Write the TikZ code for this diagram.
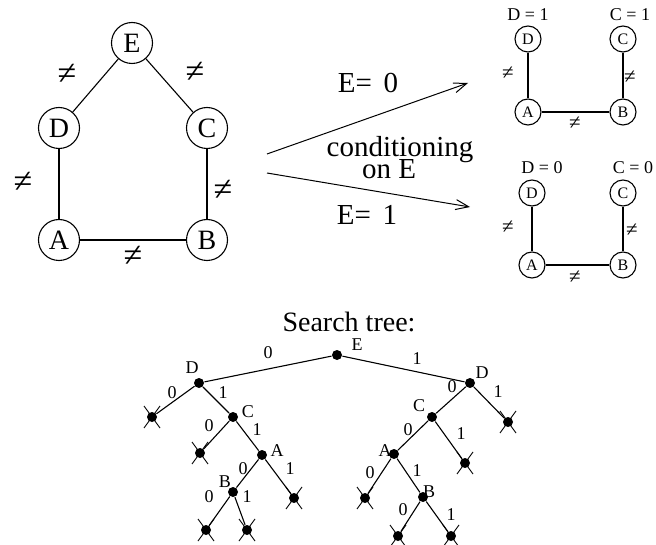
\documentclass[tikz,border=0pt]{standalone}
\usepackage{fontspec}
\setmainfont{Liberation Serif}
\usetikzlibrary{arrows.meta}

\begin{document}
\begin{tikzpicture}[x=1pt, y=-1pt, line width=1.1pt,
  vbig/.style={circle, draw, inner sep=0pt, minimum size=41pt, font=\fontsize{28}{30}\selectfont},
  vsmall/.style={circle, draw, inner sep=0pt, minimum size=26pt, font=\fontsize{16}{17}\selectfont},
  neqbig/.style={inner sep=0pt, font=\fontsize{34}{36}\selectfont},
  neqsmall/.style={inner sep=0pt, font=\fontsize{21}{22}\selectfont},
  big/.style={inner sep=0pt, font=\fontsize{29}{31}\selectfont},
  lbl/.style={inner sep=0pt, font=\fontsize{18}{19}\selectfont},
  dot/.style={circle, fill, inner sep=0pt, minimum size=10pt},
  cond/.style={-{Straight Barb[length=13pt, width=10pt]}, line width=1pt}]
\useasboundingbox (0,0) rectangle (656,545);

% the constraint graph
\node[vbig] (E) at (132,43) {E};
\node[vbig] (D) at (59,128) {D};
\node[vbig] (C) at (207,128) {C};
\node[vbig] (A) at (59,240) {A};
\node[vbig] (B) at (207,240) {B};
\foreach \u/\v in {E/D, E/C, D/A, C/B, A/B} \draw (\u) -- (\v);
\foreach \p in {(67,74),(195,72),(23,182),(223,190),(133,256)} \node[neqbig] at \p {≠};

% conditioning arrows
\coordinate (up0) at (267,154); \coordinate (up1) at (468,83);
\coordinate (dn0) at (267,173); \coordinate (dn1) at (470,207);
\draw[cond] (up0) -- (up1);
\draw[cond] (dn0) -- (dn1);
\node[big] (e0) at (368,83) {E=\hspace{0.4em}0};
\node[big] (e1) at (367,215) {E=\hspace{0.4em}1};
\node[big] (cnd) at (400,150) {conditioning};
\node[big] (onE) at (389,169) {on E};

% E = 0
\node[vsmall] (D0) at (528,39) {D};
\node[vsmall] (C0) at (623,39) {C};
\node[vsmall] (A0) at (528,112) {A};
\node[vsmall] (B0) at (623,112) {B};
\node[lbl] at (528,15) {D = 1};
\node[lbl] at (630,15) {C = 1};
% E = 1
\node[vsmall] (D1) at (532,193) {D};
\node[vsmall] (C1) at (623,193) {C};
\node[vsmall] (A1) at (532,265) {A};
\node[vsmall] (B1) at (623,265) {B};
\node[lbl] at (542,168) {D = 0};
\node[lbl] at (633,168) {C = 0};
\foreach \i in {0,1} {
  \draw (D\i) -- (A\i); \draw (C\i) -- (B\i); \draw (A\i) -- (B\i);
}
\foreach \p in {(508,73),(630,77),(575,123),(508,227),(632,230),(575,277)} \node[neqsmall] at \p {≠};

% search tree
\node[big, font=\fontsize{28}{30}\selectfont] (title) at (349,322) {Search tree:};
\node[dot] (tE) at (337,355) {};
\node[dot] (lD) at (199,383) {};
\node[dot] (lC) at (233,417) {};
\node[dot] (lA) at (262,455) {};
\node[dot] (lB) at (233,492) {};
\node[dot] (rD) at (470,383) {};
\node[dot] (rC) at (432,417) {};
\node[dot] (rA) at (394,454) {};
\node[dot] (rB) at (423,497) {};
% dead ends
\node[dot] (lx1) at (152,417) {};
\node[dot] (lx2) at (200,453) {};
\node[dot] (lx3) at (294,498) {};
\node[dot] (lx4) at (206,530) {};
\node[dot] (lx5) at (247,530) {};
\node[dot] (rx1) at (508,422) {};
\node[dot] (rx2) at (465,463) {};
\node[dot] (rx3) at (365,498) {};
\node[dot] (rx4) at (398,536) {};
\node[dot] (rx5) at (451,536) {};
\foreach \u/\v in {tE/lD, lD/lx1, lD/lC, lC/lx2, lC/lA, lA/lB, lA/lx3, lB/lx4, lB/lx5,
  tE/rD, rD/rC, rD/rx1, rC/rA, rC/rx2, rA/rx3, rA/rB, rB/rx4, rB/rx5}
  \draw (\u) -- (\v);
\foreach \x in {lx1, lx2, lx3, lx4, lx5, rx1, rx2, rx3, rx4, rx5} {
  \draw[line width=0.9pt] ([shift={(-8,-11)}]\x.center) -- ([shift={(8,11)}]\x.center);
  \draw[line width=0.9pt] ([shift={(-8,11)}]\x.center) -- ([shift={(8,-11)}]\x.center);
}
\foreach \t/\px/\py in {0/268/353, E/357/345, D/192/368, 0/172/393, 1/223/393,
  C/248/412, 0/209/426, 1/257/430, A/277/451, 0/243/469, 1/290/469,
  B/225/482, 0/209/497, 1/247/497,
  1/417/359, D/482/373, 0/452/387, 1/498/392, C/419/406, 0/408/430,
  1/461/434, A/385/451, 0/370/473, 1/417/471, B/429/492, 0/403/510, 1/451/515}
  \node[lbl] at (\px,\py) {\t};
\end{tikzpicture}
\end{document}
